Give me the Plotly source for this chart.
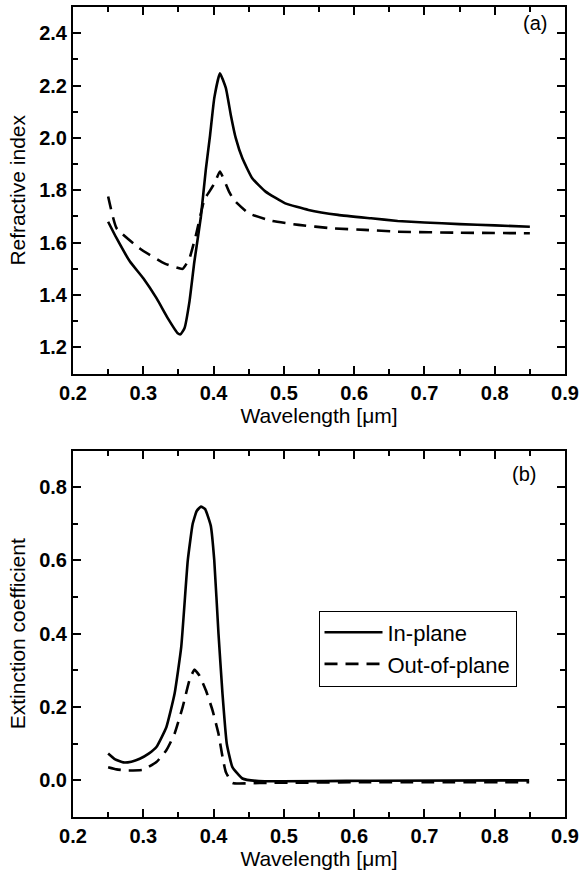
import plotly.graph_objects as go

# ---- Data: panel (a) refractive index ----
wl_n_in = [0.25, 0.262, 0.281, 0.30, 0.319, 0.335, 0.349, 0.353, 0.3586, 0.3657, 0.3727,
           0.382, 0.389, 0.395, 0.401, 0.409, 0.4175, 0.4245, 0.4316, 0.441, 0.455, 0.474,
           0.502, 0.535, 0.577, 0.624, 0.662, 0.70, 0.75, 0.80, 0.85]
n_in = [1.68, 1.617, 1.528, 1.464, 1.387, 1.311, 1.254, 1.25, 1.273, 1.375, 1.528,
        1.70, 1.88, 2.01, 2.152, 2.247, 2.19, 2.088, 1.999, 1.922, 1.846, 1.795,
        1.75, 1.725, 1.706, 1.693, 1.683, 1.677, 1.671, 1.666, 1.661]

wl_n_out = [0.25, 0.262, 0.295, 0.33, 0.356, 0.3657, 0.375, 0.387, 0.394, 0.402, 0.409,
            0.422, 0.429, 0.45, 0.483, 0.521, 0.568, 0.615, 0.662, 0.75, 0.85]
n_out = [1.776, 1.655, 1.578, 1.521, 1.50, 1.54, 1.63, 1.765, 1.795, 1.83, 1.872,
         1.795, 1.763, 1.712, 1.683, 1.668, 1.655, 1.649, 1.642, 1.638, 1.636]

# ---- Data: panel (b) extinction coefficient ----
wl_k_in = [0.25, 0.26, 0.2716, 0.283, 0.295, 0.3077, 0.3187, 0.3328, 0.3445, 0.354,
           0.3633, 0.3703, 0.376, 0.382, 0.388, 0.396, 0.401, 0.407, 0.4127, 0.4188,
           0.4268, 0.441, 0.4644, 0.623, 0.849]
k_in = [0.073, 0.057, 0.049, 0.051, 0.059, 0.073, 0.091, 0.145, 0.236, 0.364,
        0.60, 0.70, 0.735, 0.747, 0.74, 0.695, 0.60, 0.40, 0.236, 0.10,
        0.036, 0.005, -0.002, -0.001, 0.0]

wl_k_out = [0.25, 0.262, 0.276, 0.2995, 0.3187, 0.3328, 0.3445, 0.356, 0.3657, 0.3727,
            0.3798, 0.3892, 0.3985, 0.407, 0.4127, 0.4174, 0.4268, 0.4654, 0.623, 0.849]
k_out = [0.036, 0.030, 0.027, 0.029, 0.05, 0.082, 0.127, 0.20, 0.273, 0.302,
         0.286, 0.245, 0.191, 0.127, 0.064, 0.023, -0.007, -0.007, -0.005, -0.005]

series_names = ["In-plane", "Out-of-plane"]
x_ticks = [0.2, 0.3, 0.4, 0.5, 0.6, 0.7, 0.8, 0.9]
n_ticks = [1.2, 1.4, 1.6, 1.8, 2.0, 2.2, 2.4]
k_ticks = [0.0, 0.2, 0.4, 0.6, 0.8]

FONT = "Liberation Sans, Arial, sans-serif"
LW = 2.6
DASH = "13px,8px"
SMOOTH = 0.4

fig = go.Figure()
fig.add_trace(go.Scatter(x=wl_n_in, y=n_in, mode="lines", xaxis="x", yaxis="y",
                         line=dict(color="black", width=LW, shape="spline", smoothing=SMOOTH),
                         showlegend=False))
fig.add_trace(go.Scatter(x=wl_n_out, y=n_out, mode="lines", xaxis="x", yaxis="y",
                         line=dict(color="black", width=LW, dash=DASH, shape="spline", smoothing=SMOOTH),
                         showlegend=False))
fig.add_trace(go.Scatter(x=wl_k_in, y=k_in, mode="lines", xaxis="x2", yaxis="y2",
                         name=series_names[0],
                         line=dict(color="black", width=LW, shape="spline", smoothing=SMOOTH)))
fig.add_trace(go.Scatter(x=wl_k_out, y=k_out, mode="lines", xaxis="x2", yaxis="y2",
                         name=series_names[1],
                         line=dict(color="black", width=LW, dash=DASH, shape="spline", smoothing=SMOOTH)))

def bold(vals):
    return ["<b>%.1f</b>" % v for v in vals]

def xaxis_cfg(anchor):
    return dict(
        anchor=anchor, range=[0.2, 0.9], tickvals=x_ticks, ticktext=bold(x_ticks),
        ticks="inside", ticklen=8, tickwidth=2, tickcolor="black",
        minor=dict(dtick=0.05, tick0=0.2, ticks="inside", ticklen=5, tickwidth=2, tickcolor="black"),
        showline=True, linecolor="black", linewidth=2, mirror="ticks",
        showgrid=False, zeroline=False,
        tickfont=dict(family=FONT, size=20, color="black"),
        title=dict(text="Wavelength [\u03bcm]", font=dict(family=FONT, size=21, color="black"), standoff=2),
    )

def yaxis_cfg(anchor, rng, vals, dom, title, minor_tick0):
    return dict(
        anchor=anchor, domain=dom, range=rng, tickvals=vals, ticktext=bold(vals),
        ticks="inside", ticklen=8, tickwidth=2, tickcolor="black",
        minor=dict(dtick=0.1, tick0=minor_tick0, ticks="inside", ticklen=5, tickwidth=2, tickcolor="black"),
        showline=True, linecolor="black", linewidth=2, mirror="ticks",
        showgrid=False, zeroline=False,
        tickfont=dict(family=FONT, size=20, color="black"),
        title=dict(text=title, font=dict(family=FONT, size=21, color="black"), standoff=8),
    )

H = 877
top_px, bot_px = 5, 60
plot_h = H - top_px - bot_px
dom_a = [1 - (372.5 - top_px) / plot_h, 1.0]
dom_b = [0.0, (816.7 - 449.3) / plot_h]

fig.update_layout(
    width=584, height=877,
    margin=dict(l=73, r=16, t=top_px, b=bot_px),
    paper_bgcolor="white", plot_bgcolor="white",
    font=dict(family=FONT, color="black"),
    xaxis=xaxis_cfg("y"),
    yaxis=yaxis_cfg("x", [1.1, 2.5], n_ticks, dom_a, "Refractive index", 1.1),
    xaxis2=xaxis_cfg("y2"),
    yaxis2=yaxis_cfg("x2", [-0.1, 0.9], k_ticks, dom_b, "Extinction coefficient", -0.1),
    legend=dict(x=0.499, y=1 - (610 - top_px) / plot_h, xanchor="left", yanchor="top",
                bordercolor="black", borderwidth=1, bgcolor="white",
                font=dict(family=FONT, size=22, color="black"),
                itemwidth=58, tracegroupgap=0),
    annotations=[
        dict(x=0.858, y=2.44, xref="x", yref="y", text="(a)", showarrow=False,
             font=dict(family=FONT, size=20, color="black")),
        dict(x=0.842, y=0.835, xref="x2", yref="y2", text="(b)", showarrow=False,
             font=dict(family=FONT, size=20, color="black")),
    ],
)

fig.write_html("out.html")
